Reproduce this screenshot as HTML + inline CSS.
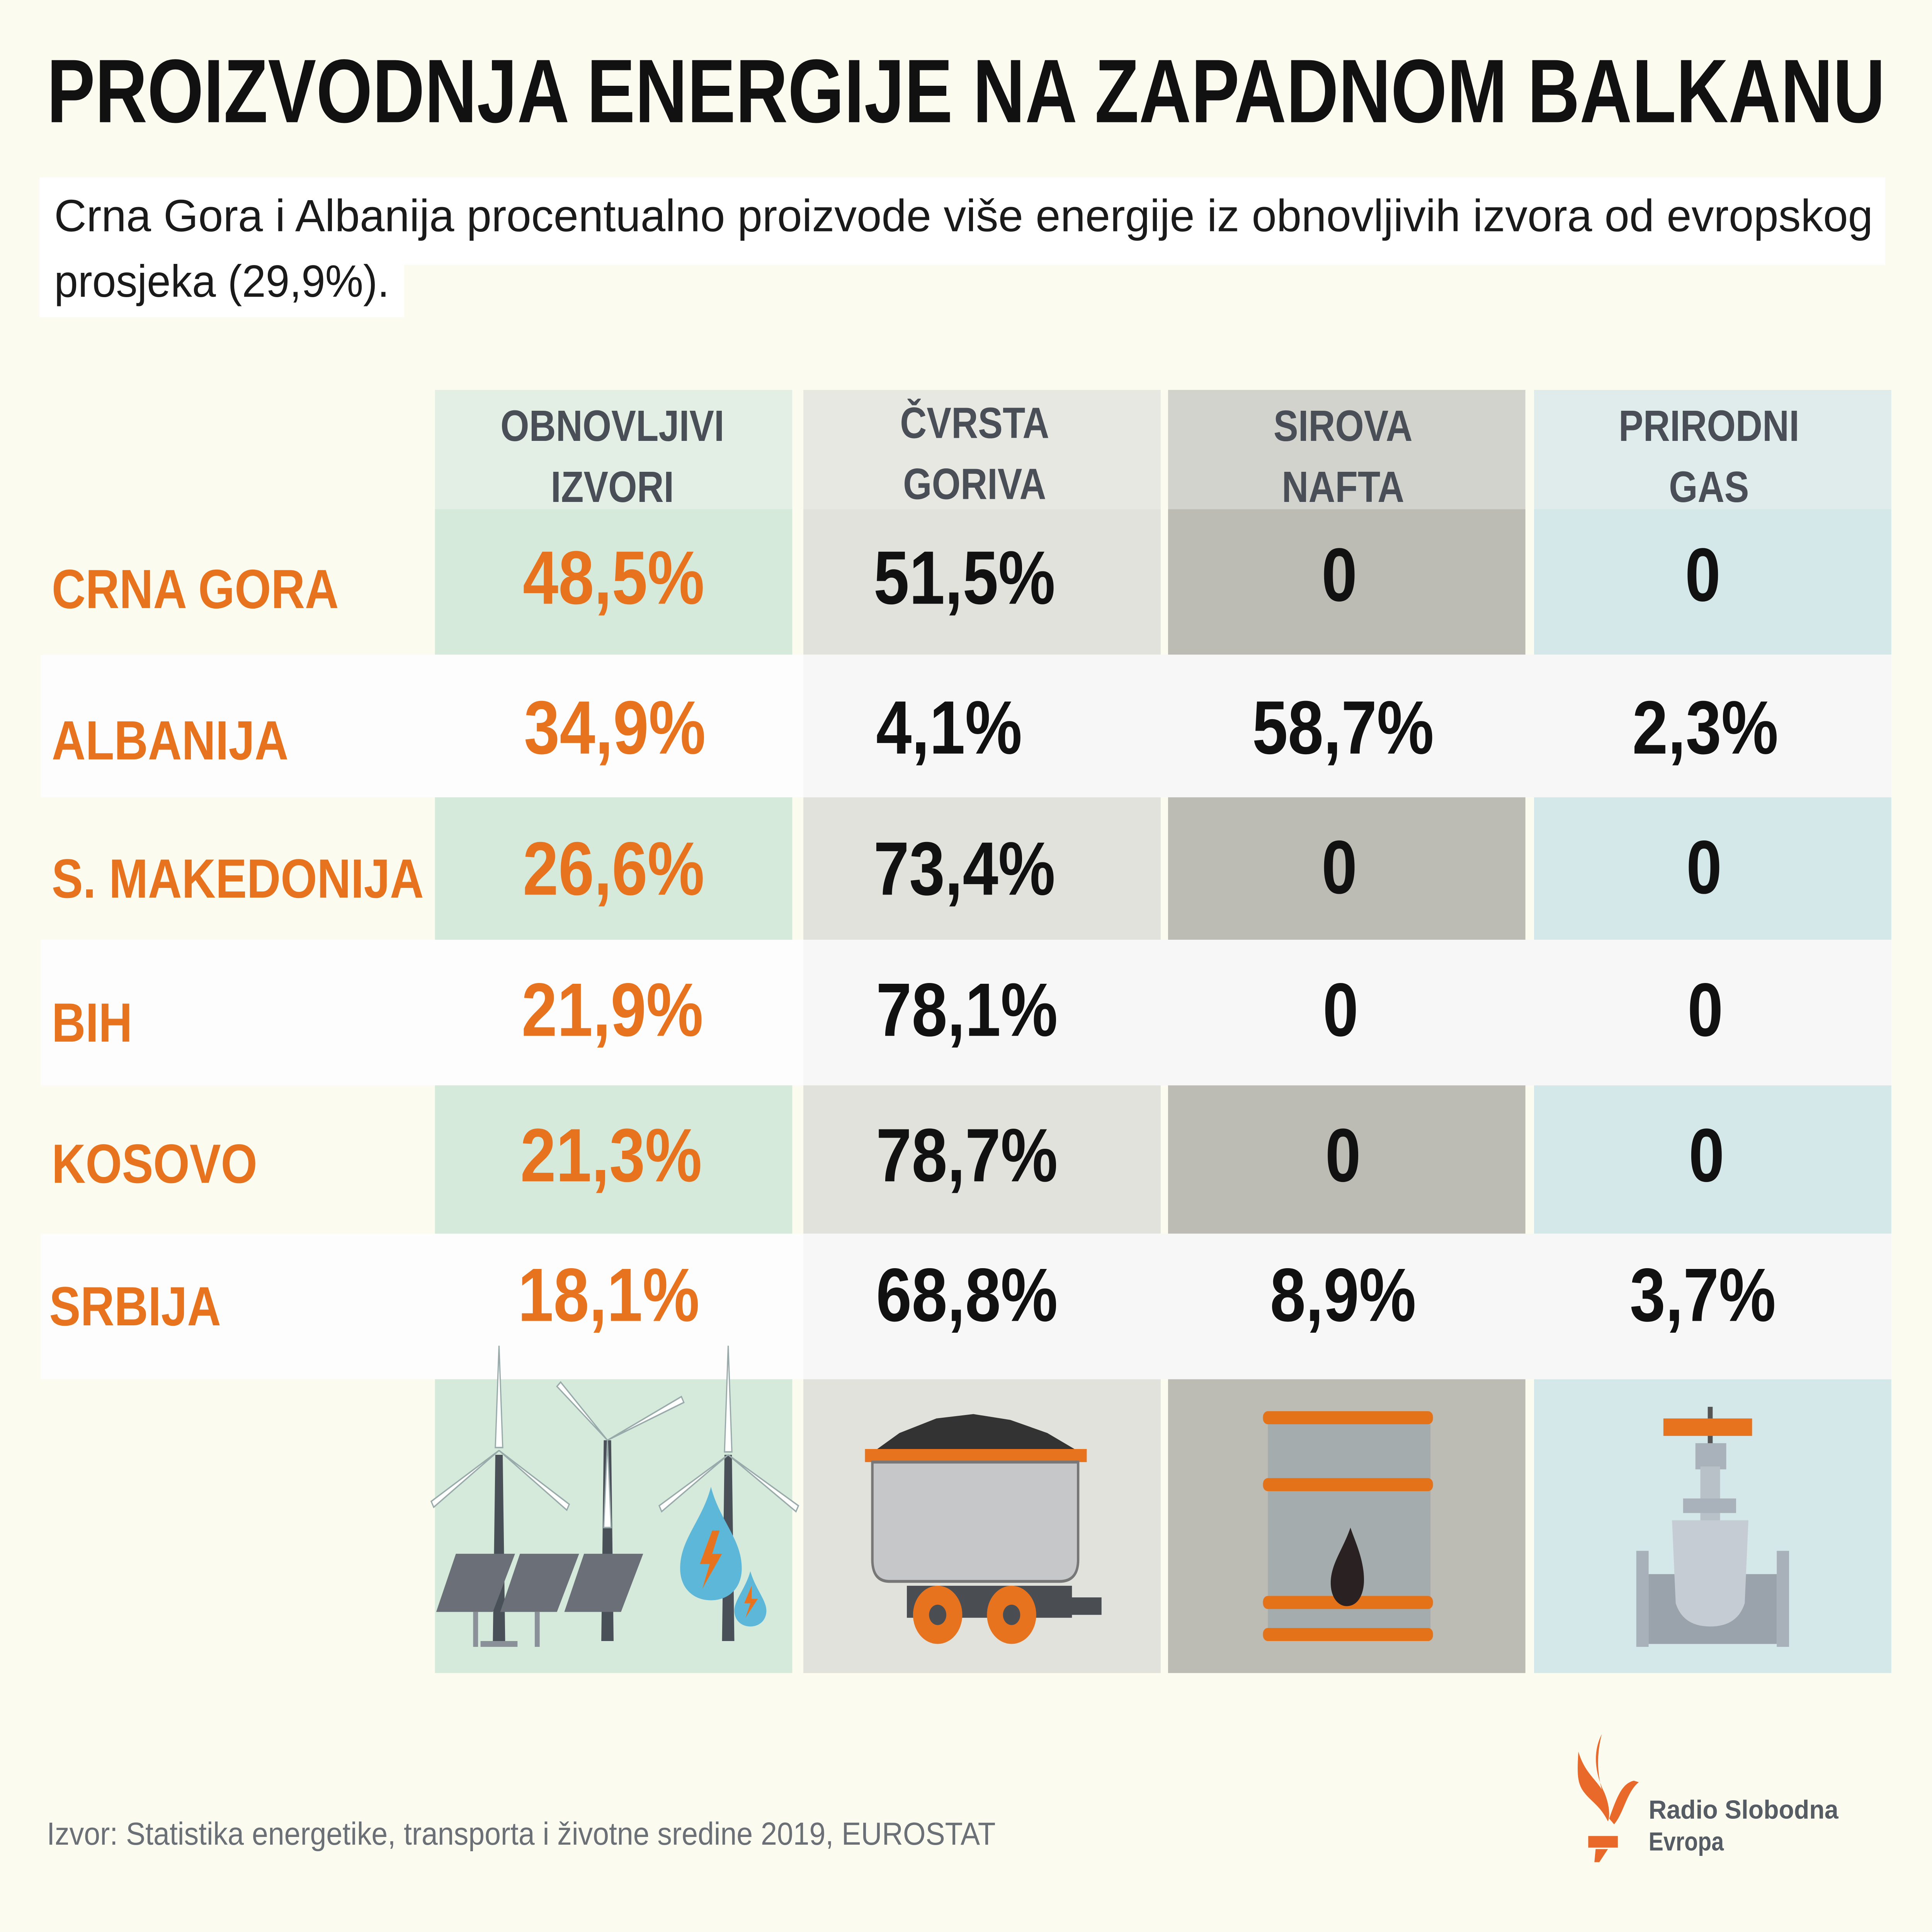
<!DOCTYPE html>
<html><head><meta charset="utf-8"><style>
html,body{margin:0;padding:0;background:#fbfbf0;width:100%;height:100%;overflow:hidden;}
svg{display:block;width:100vw;height:100vh;}
</style></head><body>
<svg xmlns="http://www.w3.org/2000/svg" viewBox="0 0 1568 1328" preserveAspectRatio="none" font-family="Liberation Sans, sans-serif">
<rect width="1568" height="1328" fill="#fbfbf0"/>
<text x="38" y="84" font-size="62" font-weight="bold" fill="#111" textLength="1492" lengthAdjust="spacingAndGlyphs">PROIZVODNJA ENERGIJE NA ZAPADNOM BALKANU</text>
<rect x="32" y="122" width="1498" height="60" fill="#fff"/>
<rect x="32" y="182" width="296" height="36" fill="#fff"/>
<text x="44" y="159" font-size="31" fill="#1a1a1a" textLength="1476" lengthAdjust="spacingAndGlyphs">Crna Gora i Albanija procentualno proizvode više energije iz obnovljivih izvora od evropskog</text>
<text x="44" y="204" font-size="31" fill="#1a1a1a" textLength="272" lengthAdjust="spacingAndGlyphs">prosjeka (29,9%).</text>

<rect x="353" y="268" width="290" height="82" fill="#e3efe5"/>
<rect x="652" y="268" width="290" height="82" fill="#e8e8e3"/>
<rect x="948" y="268" width="290" height="82" fill="#d3d3cd"/>
<rect x="1245" y="268" width="290" height="82" fill="#e0ecec"/>
<g font-size="30" font-weight="bold" fill="#4a4f57" text-anchor="middle">
<text x="497" y="303">OBNOVLJIVI</text><text x="497" y="345">IZVORI</text>
<text x="791" y="301">ČVRSTA</text><text x="791" y="343">GORIVA</text>
<text x="1090" y="303">SIROVA</text><text x="1090" y="345">NAFTA</text>
<text x="1387" y="303">PRIRODNI</text><text x="1387" y="345">GAS</text>
</g>

<g>
<rect x="353" y="350" width="290" height="100" fill="#d5eadb"/><rect x="652" y="350" width="290" height="100" fill="#e2e2dd"/><rect x="948" y="350" width="290" height="100" fill="#bcbcb5"/><rect x="1245" y="350" width="290" height="100" fill="#d4e8ea"/>
<rect x="353" y="548" width="290" height="98" fill="#d5eadb"/><rect x="652" y="548" width="290" height="98" fill="#e2e2dd"/><rect x="948" y="548" width="290" height="98" fill="#bcbcb5"/><rect x="1245" y="548" width="290" height="98" fill="#d4e8ea"/>
<rect x="353" y="746" width="290" height="102" fill="#d5eadb"/><rect x="652" y="746" width="290" height="102" fill="#e2e2dd"/><rect x="948" y="746" width="290" height="102" fill="#bcbcb5"/><rect x="1245" y="746" width="290" height="102" fill="#d4e8ea"/>
<rect x="353" y="948" width="290" height="202" fill="#d5eadb"/><rect x="652" y="948" width="290" height="202" fill="#e2e2dd"/><rect x="948" y="948" width="290" height="202" fill="#bcbcb5"/><rect x="1245" y="948" width="290" height="202" fill="#d4e8ea"/>
</g>
<g>
<rect x="33" y="450" width="1502" height="98" fill="#fdfdfd"/>
<rect x="33" y="646" width="1502" height="100" fill="#fdfdfd"/>
<rect x="33" y="848" width="1502" height="100" fill="#fdfdfd"/>
<rect x="652" y="450" width="883" height="98" fill="#f7f7f7"/>
<rect x="652" y="646" width="883" height="100" fill="#f7f7f7"/>
<rect x="652" y="848" width="883" height="100" fill="#f7f7f7"/>
</g>

<g font-size="38" font-weight="bold" fill="#e8731e">
<text x="42" y="418">CRNA GORA</text>
<text x="42" y="522">ALBANIJA</text>
<text x="42" y="617">S. MAKEDONIJA</text>
<text x="42" y="716">BIH</text>
<text x="42" y="813">KOSOVO</text>
<text x="40" y="911">SRBIJA</text>
</g>
<g font-size="52" font-weight="bold" fill="#e8731e" text-anchor="middle">
<text x="498" y="415">48,5%</text>
<text x="499" y="518">34,9%</text>
<text x="498" y="615">26,6%</text>
<text x="497" y="712">21,9%</text>
<text x="496" y="812">21,3%</text>
<text x="494" y="908">18,1%</text>
</g>
<g font-size="52" font-weight="bold" fill="#111">
<text x="709" y="415">51,5%</text>
<text x="711" y="518">4,1%</text>
<text x="709" y="615">73,4%</text>
<text x="711" y="712">78,1%</text>
<text x="711" y="812">78,7%</text>
<text x="711" y="908">68,8%</text>
</g>
<g font-size="52" font-weight="bold" fill="#111" text-anchor="middle">
<text x="1087" y="413">0</text><text x="1090" y="518">58,7%</text><text x="1087" y="614">0</text><text x="1088" y="712">0</text><text x="1090" y="812">0</text><text x="1090" y="908">8,9%</text>
<text x="1382" y="413">0</text><text x="1384" y="518">2,3%</text><text x="1383" y="614">0</text><text x="1384" y="712">0</text><text x="1385" y="812">0</text><text x="1382" y="908">3,7%</text>
</g>

<g>
<g fill="#4a5058"><polygon points="402,1000 408,1000 410,1128 400,1128"/><polygon points="490,990 496,990 498,1128 488,1128"/><polygon points="588,1000 594,1000 596,1128 586,1128"/></g>
<g fill="#fff" stroke="#9aa" stroke-width="1">
<polygon points="405,925 408,995 402,995"/><polygon points="405,997 350,1032 352,1036"/><polygon points="405,997 462,1034 460,1038"/>
<polygon points="493,990 455,950 452,953"/><polygon points="493,990 553,960 555,964"/><polygon points="493,990 490,1050 496,1050"/>
<polygon points="591,925 594,998 588,998"/><polygon points="591,1000 535,1035 537,1039"/><polygon points="591,1000 648,1035 646,1039"/>
</g>
<g fill="#6b7078"><polygon points="370,1068 418,1068 400,1108 354,1108"/><polygon points="422,1068 470,1068 452,1108 406,1108"/><polygon points="474,1068 522,1068 504,1108 458,1108"/></g>
<g fill="#8a9098"><rect x="384" y="1108" width="4" height="24"/><rect x="434" y="1108" width="4" height="24"/><rect x="390" y="1128" width="30" height="4"/></g>
<path d="M577,1022 C570,1045 552,1058 552,1078 C552,1092 563,1100 577,1100 C591,1100 602,1092 602,1078 C602,1058 584,1045 577,1022Z" fill="#5db7d8"/>
<path d="M609,1080 C605,1092 596,1100 596,1107 C596,1114 602,1118 609,1118 C616,1118 622,1114 622,1107 C622,1100 613,1092 609,1080Z" fill="#5db7d8"/>
<polygon points="578,1052 568,1075 576,1075 570,1092 586,1068 578,1068 584,1052" fill="#e8731e"/>
<polygon points="610,1090 604,1102 609,1102 605,1112 615,1099 610,1099" fill="#e8731e"/>
</g>

<g>
<path d="M712,996 L730,985 L760,975 L790,972 L820,976 L850,985 L872,996Z" fill="#333"/>
<rect x="702" y="996" width="180" height="9" fill="#e8731e"/>
<path d="M708,1005 L875,1005 L875,1072 Q875,1087 860,1087 L722,1087 Q708,1087 708,1072Z" fill="#c6c7c8" stroke="#777" stroke-width="2"/>
<rect x="736" y="1090" width="134" height="22" fill="#4a4d52"/>
<rect x="868" y="1098" width="26" height="12" fill="#4a4d52"/>
<circle cx="761" cy="1110" r="20" fill="#e8731e"/><circle cx="761" cy="1110" r="7" fill="#4a4d52"/>
<circle cx="821" cy="1110" r="20" fill="#e8731e"/><circle cx="821" cy="1110" r="7" fill="#4a4d52"/>
</g>

<g>
<rect x="1029" y="979" width="132" height="147" fill="#a4acad"/>
<g fill="#e37219"><rect x="1025" y="970" width="138" height="9" rx="4"/><rect x="1025" y="1016" width="138" height="9" rx="4"/><rect x="1025" y="1097" width="138" height="9" rx="4"/><rect x="1025" y="1119" width="138" height="9" rx="4"/></g>
<path d="M1096,1050 C1090,1065 1080,1075 1080,1088 C1080,1098 1086,1104 1093,1104 C1102,1104 1107,1096 1107,1086 C1107,1072 1100,1060 1096,1050Z" fill="#2a2222"/>
</g>

<g>
<rect x="1386" y="967" width="4" height="40" fill="#555"/>
<rect x="1350" y="975" width="72" height="12" fill="#e8731e"/>
<rect x="1376" y="992" width="25" height="18" fill="#a9b2ba"/>
<rect x="1380" y="1008" width="16" height="70" fill="#b8c0c8"/>
<rect x="1366" y="1030" width="43" height="10" fill="#a9b2ba"/>
<rect x="1376" y="1060" width="25" height="22" fill="#b8c0c8"/>
<rect x="1362" y="1082" width="54" height="20" fill="#aeb7bf"/>
<rect x="1328" y="1066" width="10" height="66" fill="#a8b1ba"/>
<rect x="1442" y="1066" width="10" height="66" fill="#a8b1ba"/>
<rect x="1338" y="1082" width="104" height="48" fill="#9aa3ac"/>
<path d="M1357,1045 L1419,1045 L1416,1102 Q1410,1118 1388,1118 Q1366,1118 1360,1102Z" fill="#c5ccd3"/>
</g>

<text x="38" y="1268" font-size="22" fill="#6b7076" textLength="770" lengthAdjust="spacingAndGlyphs">Izvor: Statistika energetike, transporta i životne sredine 2019, EUROSTAT</text>
<g fill="#e8692a">
<path d="M1300,1192 C1292,1205 1295,1220 1302,1232 C1306,1240 1307,1248 1305,1252 C1298,1240 1290,1238 1284,1230 C1280,1224 1280,1218 1281,1204 C1286,1218 1294,1222 1300,1230 C1296,1218 1296,1205 1300,1192Z"/>
<path d="M1306,1250 C1312,1236 1316,1226 1326,1224 L1330,1225 C1320,1232 1318,1246 1310,1254Z"/>
<rect x="1289" y="1262" width="24" height="8"/>
<polygon points="1295,1271 1305,1271 1298,1280 1294,1280"/>
</g>
<g font-size="18" font-weight="bold" fill="#555c64">
<text x="1338" y="1250" textLength="154" lengthAdjust="spacingAndGlyphs">Radio Slobodna</text>
<text x="1338" y="1272">Evropa</text>
</g>
</svg>
</body></html>
